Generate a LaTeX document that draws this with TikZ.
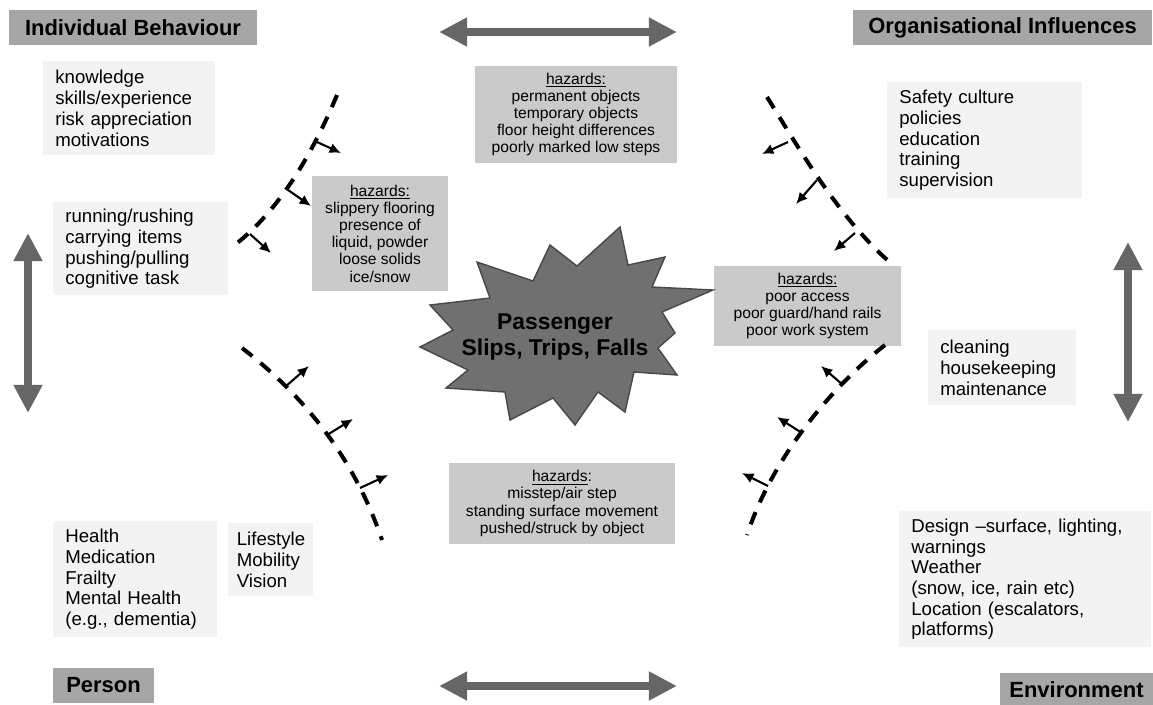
\documentclass[tikz,border=0pt]{standalone}
\usepackage{fontspec}
\setmainfont{Liberation Sans}
\usetikzlibrary{arrows.meta}
\definecolor{hdrfill}{RGB}{166,166,166}
\definecolor{hazfill}{RGB}{202,202,202}
\definecolor{lightfill}{RGB}{243,243,243}
\definecolor{arrowgray}{RGB}{102,102,102}
\definecolor{burstfill}{RGB}{112,112,112}
\definecolor{burstline}{RGB}{72,72,72}
\newcommand{\boxfont}{\fontsize{10.6}{11.8}\selectfont}
\newcommand{\hazfont}{\fontsize{8.9}{9.8}\selectfont}
\newcommand{\hdrfont}{\fontsize{12.5}{14}\selectfont\bfseries}
\newcommand{\burstfont}{\fontsize{13}{14.5}\selectfont\bfseries}
\begin{document}
\begin{tikzpicture}[x=0.02cm,y=-0.02cm,
    hdr/.style={fill=hdrfill,font=\hdrfont,minimum height=0.7cm,inner sep=0pt},
    lbox/.style={fill=lightfill,font=\boxfont,align=left,anchor=north west,inner xsep=0.24cm,inner ysep=0pt},
    hbox/.style={fill=hazfill,font=\hazfont,align=center,inner sep=0pt},
    bigarrow/.style={draw=arrowgray,line width=4.5pt,{Triangle[width=15.5pt,length=16pt]}-{Triangle[width=15.5pt,length=16pt]}},
    barrier/.style={line width=2.3pt,dash pattern=on 7.5pt off 6pt},
    tick/.style={line width=1.2pt,-{Latex[length=6.5pt,width=6pt]}}]
\useasboundingbox (0,0) rectangle (1153,704);

\node[hdr,minimum width=4.96cm] (indiv) at (133,27.5) {Individual Behaviour};
\node[hdr,minimum width=5.98cm] (org) at (1002.5,27.5) {Organisational Influences};
\node[hdr,minimum width=2.02cm] (person) at (103.5,685.5) {Person};
\node[hdr,minimum width=3.06cm] (env) at (1076.5,690) {Environment};

\node[lbox,text width=2.96cm,minimum height=1.88cm] (know) at (43,61) {knowledge\\skills/experience\\risk appreciation\\motivations};
\node[lbox,text width=3.02cm,minimum height=1.86cm] (rush) at (53,202) {running/rushing\\carrying items\\pushing/pulling\\cognitive task};
\node[lbox,text width=2.80cm,minimum height=2.32cm] (health) at (53,521) {Health\\Medication\\Frailty\\Mental Health\\(e.g., dementia)};
\node[lbox,inner xsep=0.17cm,text width=1.36cm,minimum height=1.46cm] (life) at (228,523) {Lifestyle\\Mobility\\Vision};
\node[lbox,text width=3.42cm,minimum height=2.32cm] (safety) at (887,82) {Safety culture\\policies\\education\\training\\supervision};
\node[lbox,text width=2.48cm,minimum height=1.5cm] (clean) at (928,330) {cleaning\\housekeeping\\maintenance};
\node[lbox,text width=4.56cm,minimum height=2.72cm] (design) at (899,511) {Design –surface, lighting,\\warnings\\Weather\\(snow, ice, rain etc)\\Location (escalators,\\platforms)};

\node[hbox,minimum width=4.04cm,minimum height=1.94cm] (hzTop) at (576,114.5) {\underline{hazards:}\\permanent objects\\temporary objects\\floor height differences\\poorly marked low steps};
\node[hbox,minimum width=2.72cm,minimum height=2.3cm] (hzLeft) at (380,233.5) {\underline{hazards:}\\slippery flooring\\presence of\\liquid, powder\\loose solids\\ice/snow};
\node[hbox,minimum width=3.74cm,minimum height=1.6cm] (hzRight) at (807.5,306) {\underline{hazards:}\\poor access\\poor guard/hand rails\\poor work system};
\node[hbox,minimum width=4.52cm,minimum height=1.62cm] (hzBot) at (562,503.5) {\underline{hazards}:\\misstep/air step\\standing surface movement\\pushed/struck by object};

\draw[fill=burstfill,draw=burstline,line width=0.8pt] (430,305) -- (490,298) -- (477,262) -- (533,281) -- (550,245) -- (577,266)
  -- (620,227) -- (628,265) -- (665,257) -- (652,287) -- (713,290) -- (662,312) -- (675,333) -- (658,348)
  -- (677,375) -- (634,372) -- (625,412) -- (598,392) -- (575,425) -- (553,398) -- (510,420) -- (505,392)
  -- (446,388) -- (468,370) -- (420,347) -- (453,330) -- cycle;
\node[font=\burstfont,align=center] (burst) at (555,337) {Passenger\\Slips, Trips, Falls};

\coordinate (topL) at (439,32);
\coordinate (topR) at (677,32);
\coordinate (botL) at (439,686);
\coordinate (botR) at (677,686);
\coordinate (leftT) at (28,233);
\coordinate (leftB) at (28,413);
\coordinate (rightT) at (1128,242);
\coordinate (rightB) at (1128,422);
\draw[bigarrow] (topL) -- (topR);
\draw[bigarrow] (botL) -- (botR);
\draw[bigarrow] (leftT) -- (leftB);
\draw[bigarrow] (rightT) -- (rightB);

\draw[barrier] (337,95) .. controls (310,160) and (275,215) .. (232,247);
\draw[barrier] (242,348) .. controls (290,385) and (350,445) .. (382,540);
\draw[barrier] (767,97) .. controls (800,150) and (840,220) .. (893,265);
\draw[barrier] (885,345) .. controls (840,380) and (775,450) .. (747,535);
\foreach \x/\y/\u/\v in {317/142/341/153, 288/190/311/206, 250/234/271/253,
    285/387/309/366, 327/435/353/419, 360/488/388/475,
    788/142/762/154, 817/180/796/204, 855/233/834/251,
    843/385/821/366, 802/433/777/417, 768/486/742/473}
  \draw[tick] (\x,\y) -- (\u,\v);
\end{tikzpicture}
\end{document}
